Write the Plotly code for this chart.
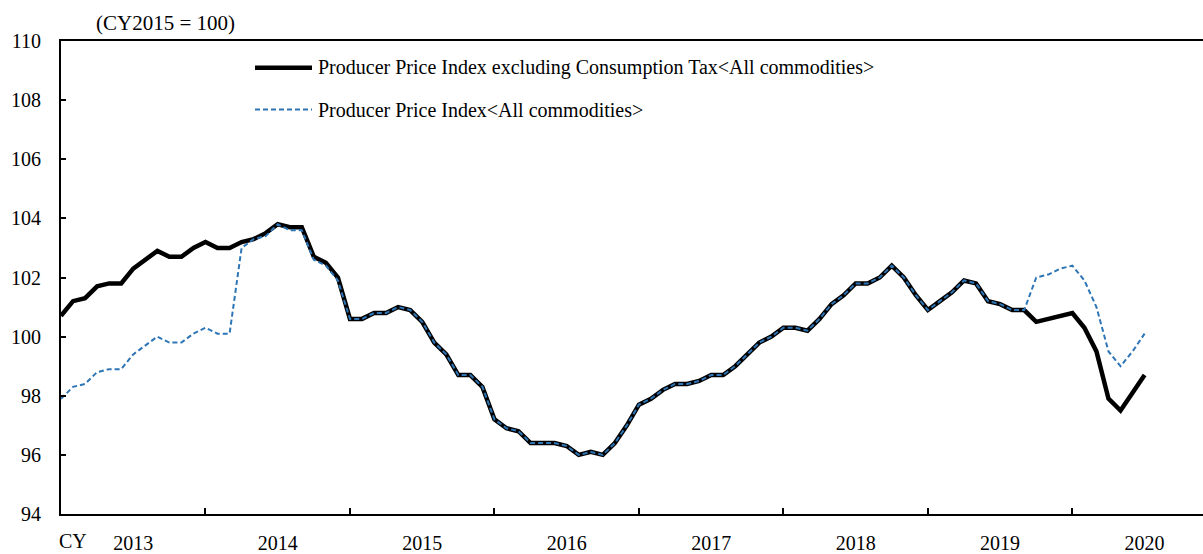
import plotly.graph_objects as go

# Monthly observations, Jan 2013 (index 0) to Jul 2020 (index 90)
months = list(range(91))

ppi_ex_tax = [
    100.7, 101.2, 101.3, 101.7, 101.8, 101.8, 102.3, 102.6, 102.9, 102.7, 102.7, 103.0,  # 2013
    103.2, 103.0, 103.0, 103.2, 103.3, 103.5, 103.8, 103.7, 103.7, 102.7, 102.5, 102.0,  # 2014
    100.6, 100.6, 100.8, 100.8, 101.0, 100.9, 100.5, 99.8, 99.4, 98.7, 98.7, 98.3,       # 2015
    97.2, 96.9, 96.8, 96.4, 96.4, 96.4, 96.3, 96.0, 96.1, 96.0, 96.4, 97.0,              # 2016
    97.7, 97.9, 98.2, 98.4, 98.4, 98.5, 98.7, 98.7, 99.0, 99.4, 99.8, 100.0,             # 2017
    100.3, 100.3, 100.2, 100.6, 101.1, 101.4, 101.8, 101.8, 102.0, 102.4, 102.0, 101.4,  # 2018
    100.9, 101.2, 101.5, 101.9, 101.8, 101.2, 101.1, 100.9, 100.9, 100.5, 100.6, 100.7,  # 2019
    100.8, 100.3, 99.5, 97.9, 97.5, 98.1, 98.7,                                          # 2020
]

ppi_all = [
    97.9, 98.3, 98.4, 98.8, 98.9, 98.9, 99.4, 99.7, 100.0, 99.8, 99.8, 100.1,            # 2013
    100.3, 100.1, 100.1, 103.0, 103.3, 103.4, 103.8, 103.6, 103.6, 102.6, 102.4, 101.9,  # 2014
    100.6, 100.6, 100.8, 100.8, 101.0, 100.9, 100.5, 99.8, 99.4, 98.7, 98.7, 98.3,       # 2015
    97.2, 96.9, 96.8, 96.4, 96.4, 96.4, 96.3, 96.0, 96.1, 96.0, 96.4, 97.0,              # 2016
    97.7, 97.9, 98.2, 98.4, 98.4, 98.5, 98.7, 98.7, 99.0, 99.4, 99.8, 100.0,             # 2017
    100.3, 100.3, 100.2, 100.6, 101.1, 101.4, 101.8, 101.8, 102.0, 102.4, 102.0, 101.4,  # 2018
    100.9, 101.2, 101.5, 101.9, 101.8, 101.2, 101.1, 100.9, 100.9, 102.0, 102.1, 102.3,  # 2019
    102.4, 101.9, 101.0, 99.5, 99.0, 99.5, 100.1,                                        # 2020
]

year_labels = ["2013", "2014", "2015", "2016", "2017", "2018", "2019", "2020"]
year_label_pos = [6 + 12 * k for k in range(len(year_labels))]
year_tick_pos = [12 * k for k in range(1, 8)]

name_ex = "Producer Price Index excluding Consumption Tax<All commodities>"
name_all = "Producer Price Index<All commodities>"

BLUE = "#2E75B6"
FONT = "Liberation Serif, Times New Roman, serif"

W, H = 1203, 554
L, R, T, B = 61, 0, 41, 37
PW, PH = W - L - R, H - T - B


def px(x):
    return (x - L) / PW


def py(y):
    return (H - B - y) / PH


fig = go.Figure()
fig.add_trace(go.Scatter(x=months, y=ppi_ex_tax, mode="lines", name=name_ex,
                         line=dict(color="black", width=4.5)))
fig.add_trace(go.Scatter(x=months, y=ppi_all, mode="lines", name=name_all,
                         line=dict(color=BLUE, width=2, dash="5px,3px")))

shapes = [
    dict(type="line", xref="paper", yref="paper", x0=px(255), x1=px(312), y0=py(68), y1=py(68),
         line=dict(color="black", width=4.5)),
    dict(type="line", xref="paper", yref="paper", x0=px(255), x1=px(312), y0=py(110), y1=py(110),
         line=dict(color=BLUE, width=2, dash="5px,3px")),
]

annotations = [
    dict(text=name_ex, xref="paper", yref="paper", x=px(316), y=py(68), xanchor="left",
         yanchor="middle", showarrow=False, font=dict(family=FONT, size=20, color="black")),
    dict(text=name_all, xref="paper", yref="paper", x=px(316), y=py(110), xanchor="left",
         yanchor="middle", showarrow=False, font=dict(family=FONT, size=20, color="black")),
    dict(text="(CY2015 = 100)", xref="paper", yref="paper", x=px(94), y=py(23), xanchor="left",
         yanchor="middle", showarrow=False, font=dict(family=FONT, size=21, color="black")),
    dict(text="CY", xref="paper", yref="paper", x=px(73), y=py(544), xanchor="center",
         yanchor="middle", showarrow=False, font=dict(family=FONT, size=20, color="black")),
]

fig.update_layout(
    width=W, height=H,
    margin=dict(l=L, r=R, t=T, b=B, pad=0),
    paper_bgcolor="white", plot_bgcolor="white",
    showlegend=False,
    font=dict(family=FONT, size=20, color="black"),
    shapes=shapes,
    annotations=annotations,
    xaxis=dict(
        range=[0, 94.85],
        tickmode="array", tickvals=year_label_pos, ticktext=year_labels,
        ticks="", showgrid=False, zeroline=False,
        showline=True, linecolor="black", linewidth=2, mirror=True,
        ticklabelstandoff=10,
        minor=dict(tickmode="array", tickvals=year_tick_pos, ticks="inside",
                   ticklen=6, tickwidth=1.5, tickcolor="black", showgrid=False),
        tickfont=dict(family=FONT, size=20, color="black"),
    ),
    yaxis=dict(
        range=[94, 110], tickmode="array", tickvals=list(range(94, 111, 2)),
        ticks="inside", ticklen=5, tickwidth=1.5, tickcolor="black",
        showgrid=False, zeroline=False,
        showline=True, linecolor="black", linewidth=2, mirror=False,
        ticklabelstandoff=14,
        tickfont=dict(family=FONT, size=20, color="black"),
    ),
)

fig.write_html("out.html")
